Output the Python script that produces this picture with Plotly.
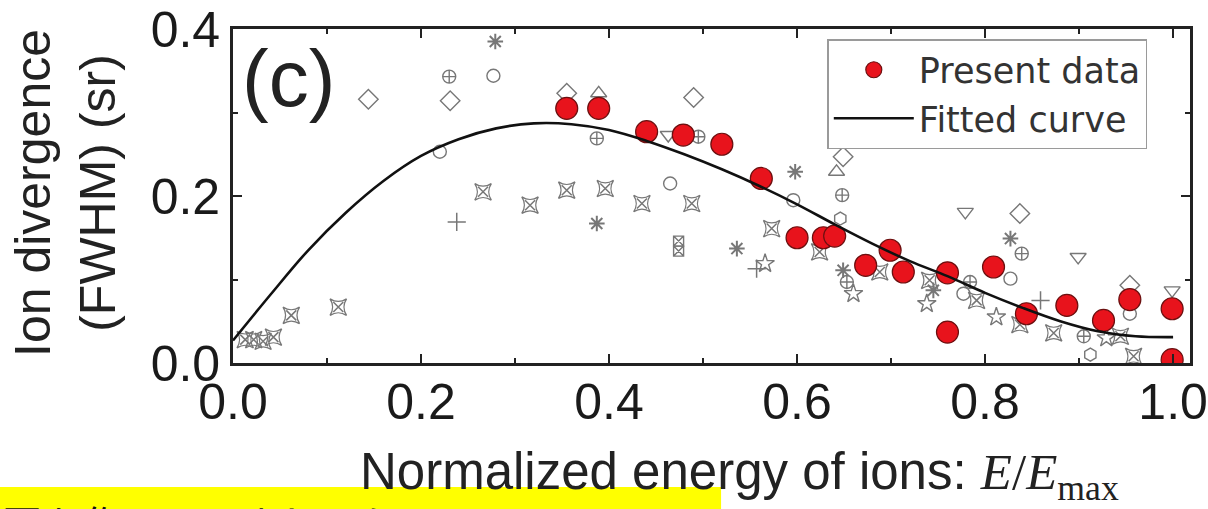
import plotly.graph_objects as go

# ---- Present data (red circles) ----
present_x = [0.355, 0.389, 0.440, 0.479, 0.520, 0.562, 0.600, 0.628, 0.640, 0.673,
             0.699, 0.713, 0.760, 0.760, 0.809, 0.844, 0.887, 0.926, 0.954, 0.999, 0.999]
present_y = [0.305, 0.305, 0.277, 0.273, 0.262, 0.221, 0.150, 0.150, 0.152, 0.117,
             0.135, 0.109, 0.108, 0.037, 0.115, 0.059, 0.069, 0.051, 0.076, 0.065, 0.004]

# ---- Fitted curve ----
fit_x = [0.00, 0.04, 0.08, 0.12, 0.16, 0.20, 0.24, 0.28, 0.32, 0.36, 0.40, 0.44, 0.48,
         0.52, 0.56, 0.60, 0.64, 0.68, 0.72, 0.76, 0.80, 0.84, 0.88, 0.92, 0.96, 1.00]
fit_y = [0.027, 0.082, 0.135, 0.180, 0.218, 0.248, 0.268, 0.281, 0.287, 0.286, 0.279,
         0.266, 0.250, 0.232, 0.212, 0.190, 0.166, 0.143, 0.122, 0.104, 0.084, 0.066,
         0.050, 0.038, 0.032, 0.031]

# ---- Other (gray) data sets ----
diamond_x = [0.144, 0.231, 0.490, 0.355, 0.649, 0.837, 0.954]
diamond_y = [0.316, 0.314, 0.318, 0.323, 0.247, 0.179, 0.093]
circle_x = [0.277, 0.220, 0.465, 0.596, 0.827, 0.954, 0.777]
circle_y = [0.344, 0.253, 0.215, 0.195, 0.101, 0.059, 0.083]
ccross_x = [0.230, 0.387, 0.495, 0.648, 0.839, 0.784, 0.905, 0.653]
ccross_y = [0.343, 0.269, 0.271, 0.201, 0.131, 0.097, 0.032, 0.097]
tridown_x = [0.463, 0.779, 0.899, 0.999]
tridown_y = [0.273, 0.181, 0.127, 0.087]
triup_x = [0.389, 0.642]
triup_y = [0.323, 0.229]
hex_x = [0.646, 0.912]
hex_y = [0.173, 0.010]
aster_x = [0.279, 0.387, 0.536, 0.598, 0.649, 0.745, 0.827]
aster_y = [0.385, 0.167, 0.137, 0.229, 0.111, 0.087, 0.149]
plus_x = [0.238, 0.557, 0.859]
plus_y = [0.169, 0.113, 0.075]
star_x = [0.566, 0.660, 0.738, 0.812, 0.929]
star_y = [0.119, 0.083, 0.071, 0.055, 0.030]
xstar_x = [0.013, 0.022, 0.032, 0.043, 0.062, 0.112, 0.266, 0.316, 0.355, 0.396, 0.435,
           0.488, 0.573, 0.624, 0.688, 0.741, 0.791, 0.837, 0.873, 0.944, 0.958]
xstar_y = [0.028, 0.028, 0.026, 0.031, 0.057, 0.067, 0.205, 0.189, 0.207, 0.209, 0.191,
           0.191, 0.161, 0.133, 0.109, 0.099, 0.075, 0.046, 0.036, 0.032, 0.008]
sq_x = [0.474, 0.474]
sq_y = [0.146, 0.134]

x_ticks = [0.0, 0.2, 0.4, 0.6, 0.8, 1.0]
x_ticktext = ["0.0", "0.2", "0.4", "0.6", "0.8", "1.0"]
y_ticks = [0.0, 0.2, 0.4]
y_ticktext = ["0.0", "0.2", "0.4"]

GRAY = "#777777"
fig = go.Figure()


def gray(xs, ys, symbol, size=13, width=1.4):
    fig.add_trace(go.Scatter(x=xs, y=ys, mode="markers", showlegend=False, hoverinfo="skip",
                             marker=dict(symbol=symbol, size=size, color=GRAY,
                                         line=dict(color=GRAY, width=width))))


gray(diamond_x, diamond_y, "diamond-open", 15)
gray(circle_x, circle_y, "circle-open", 13)
gray(ccross_x, ccross_y, "circle-cross-open", 13)
gray(tridown_x, tridown_y, "triangle-down-open", 14)
gray(triup_x, triup_y, "triangle-up-open", 14)
gray(hex_x, hex_y, "hexagon-open", 13)
gray(aster_x, aster_y, "asterisk-open", 13, 2)
gray(plus_x, plus_y, "cross-thin-open", 13, 1.5)
gray(star_x, star_y, "star-open", 14)
gray(xstar_x, xstar_y, "star-square-open", 15)
gray(xstar_x, xstar_y, "x-thin-open", 10, 1.5)
gray(sq_x, sq_y, "square-x-open", 10)

fig.add_trace(go.Scatter(x=present_x, y=present_y, mode="markers", name="Present data",
                         marker=dict(symbol="circle", size=22, color="#e8131c",
                                     line=dict(color="#6b1010", width=1.2))))
fig.add_trace(go.Scatter(x=fit_x, y=fit_y, mode="lines", name="Fitted curve",
                         line=dict(color="#111111", width=2.6, shape="spline")))

axis_common = dict(showline=True, linewidth=2.6, linecolor="#222", mirror="ticks",
                   ticks="inside", ticklen=9, tickwidth=2, tickcolor="#222",
                   showgrid=False, zeroline=False, automargin=False,
                   tickfont=dict(size=50, color="#1a1a1a", family="Liberation Sans, Arial"))

fig.update_xaxes(range=[0, 1.018], tickvals=x_ticks, ticktext=x_ticktext,
                 ticklabelstandoff=-7,
                 minor=dict(tickvals=[0.1, 0.3, 0.5, 0.7, 0.9], ticks="inside", ticklen=5,
                            tickwidth=2, tickcolor="#222", showgrid=False),
                 **axis_common)
fig.update_yaxes(range=[0, 0.4], tickvals=y_ticks, ticktext=y_ticktext,
                 minor=dict(tickvals=[0.1, 0.3], ticks="inside", ticklen=5,
                            tickwidth=2, tickcolor="#222", showgrid=False),
                 **axis_common)

fig.update_layout(
    width=1208, height=509,
    margin=dict(l=233, r=18, t=29, b=146),
    plot_bgcolor="white", paper_bgcolor="white",
    font=dict(family="Liberation Sans, Arial", color="#222"),
    legend=dict(x=0.621, y=0.97, xanchor="left", yanchor="top",
                font=dict(size=35, color="#333", family="DejaVu Sans"), bgcolor="white",
                bordercolor="#9a9a9a", borderwidth=1.5, itemwidth=80,
                tracegroupgap=0),
    annotations=[
        dict(text="(c)", xref="paper", yref="paper", x=0.0575, y=0.853,
             xanchor="center", yanchor="middle", showarrow=False,
             font=dict(size=80, color="#222")),
        dict(text="Ion divergence<br>(FWHM) (sr)", xref="paper", yref="paper",
             x=-0.1745, y=0.509, xanchor="center", yanchor="middle", textangle=-90,
             showarrow=False, font=dict(size=50, color="#222")),
        dict(text="Normalized energy of ions: <span style=\"font-family:'Liberation Serif'\">"
                  "<i>E</i>/<i>E</i><sub>max</sub></span>",
             xref="paper", yref="paper", x=0.529, y=-0.235, xanchor="center", yanchor="top",
             showarrow=False, font=dict(size=51, color="#222")),
        dict(text="図を作ってみましょう〜", xref="paper", yref="paper",
             x=-0.243, y=-0.387, xanchor="left", yanchor="top", showarrow=False,
             font=dict(size=40, color="#111", family="Noto Sans CJK JP")),
    ],
    shapes=[dict(type="rect", xref="paper", yref="paper", x0=-0.244, x1=0.51,
                 y0=-0.5, y1=-0.3713, fillcolor="#ffff00", line=dict(width=0),
                 layer="below")],
)

fig.write_html("out.html", config={"displayModeBar": False},
               post_script="document.body.style.margin='0';")
